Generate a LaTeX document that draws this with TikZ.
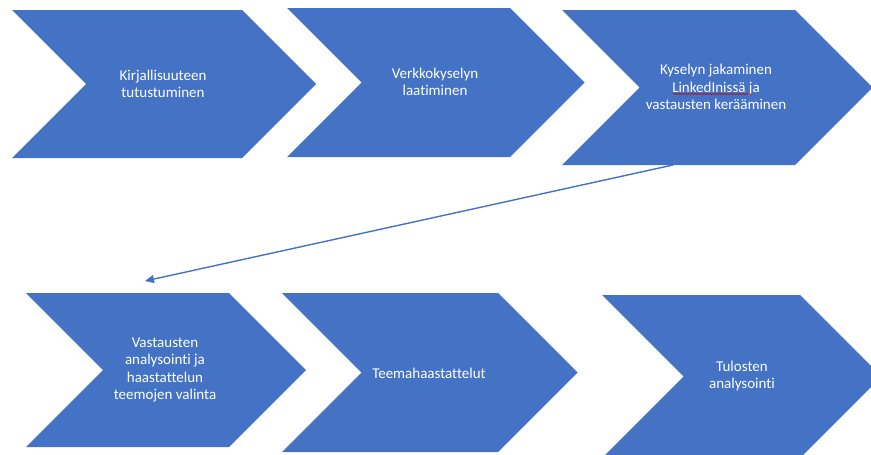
\documentclass[tikz,border=0pt]{standalone}
\usepackage{fontspec}
\setmainfont{Carlito}[Ligatures=NoCommon]
\usetikzlibrary{arrows.meta,decorations.pathmorphing}
\definecolor{offblue}{HTML}{4472C4}
\newcommand\mychev[5]{% name, left, topright, ytop, ybot (depth = half height)
  \pgfmathsetmacro\hh{(#5-#4)/2}
  \fill[chevfill] (#2,#4) -- (#3,#4) -- ({#3+\hh},{(#4+#5)/2}) -- (#3,#5) -- (#2,#5) -- ({#2+\hh},{(#4+#5)/2}) -- cycle;
  \coordinate (#1) at ({(#2+#3+\hh)/2},{(#4+#5)/2});
}
\tikzset{
  chevfill/.style={fill=offblue},
  chevtext/.style={text=white, align=center, inner sep=0pt,
    font=\fontsize{15}{17.5}\selectfont},
  flowarrow/.style={draw=offblue, line width=1.4pt, -{Triangle[length=9pt,width=8pt]}},
  squiggle/.style={draw=red!80!black, line width=0.6pt, decorate,
    decoration={snake, amplitude=0.7pt, segment length=3pt}}
}
\begin{document}
\begin{tikzpicture}[x=1pt,y=-1pt]
\useasboundingbox (0,0) rectangle (871,455);
\begin{scope}
\clip (0,0) rectangle (871,455);
\mychev{c1}{12}{242}{10}{158}
\mychev{c2}{287}{510}{8}{157}
\mychev{c3}{562}{795}{10}{165}
\mychev{c4}{26}{229}{293}{447}
\mychev{c5}{282}{498}{293}{452}
\mychev{c6}{602}{800}{295}{458}
\end{scope}
\node[chevtext] (t1) at (163,84) {Kirjallisuuteen\\tutustuminen};
\node[chevtext] (t2) at (435,82) {Verkkokyselyn\\laatiminen};
\node[chevtext] (t3) at (716,87) {Kyselyn jakaminen\\LinkedInissä ja\\vastausten kerääminen};
\node[chevtext] (t4) at (165,370) {Vastausten\\analysointi ja\\haastattelun\\teemojen valinta};
\node[chevtext] (t5) at (429,373) {Teemahaastattelut};
\node[chevtext] (t6) at (742,376) {Tulosten\\analysointi};
\coordinate (sq1) at (673,94);
\coordinate (sq2) at (752,94);
\draw[squiggle] (sq1) -- (sq2);
\coordinate (a1) at (673,165);
\coordinate (a2) at (145,281);
\draw[flowarrow] (a1) -- (a2);
\end{tikzpicture}
\end{document}
